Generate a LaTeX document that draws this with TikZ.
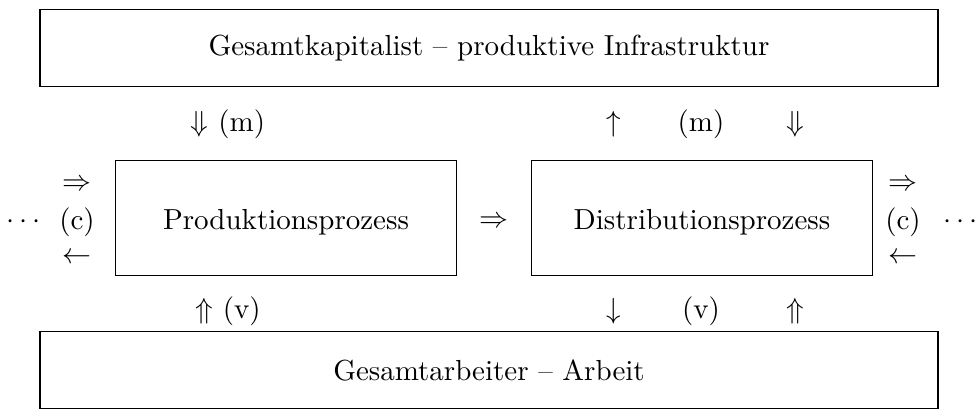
\documentclass[11pt,tikz,border=0pt]{standalone}
\usepackage{amsmath,amssymb}

\tikzset{
  bigbox/.style={draw,minimum width=11.92cm,minimum height=1.01cm,inner sep=0pt},
  procbox/.style={draw,minimum width=4.53cm,minimum height=1.526cm,inner sep=0pt},
  sym/.style={inner sep=0pt}
}

\begin{document}
\begin{tikzpicture}[x=0.01327cm,y=-0.01327cm]
          \useasboundingbox (0,0) rectangle (979,420);
          \node[bigbox] (kap) at (489,48) {Gesamtkapitalist -- produktive Infrastruktur};
          \node[bigbox] (arb) at (489,370) {Gesamtarbeiter -- Arbeit};
          \node[procbox] (prod) at (286,218) {};
          \node[procbox] (dist) at (702,218) {};
          \node[sym] (prodtxt) at (286,222) {Produktionsprozess};
          \node[sym] (disttxt) at (702,222) {Distributionsprozess};
          \node[sym] (mitte) at (494,222) {$\Rightarrow$};
          % Kreislauf links und rechts
          \foreach \nm/\x in {li/77,re/903} {
            \node[sym] (\nm hin) at (\x,185) {$\Rightarrow$};
            \node[sym] (\nm c) at (\x,222) {(c)};
            \node[sym] (\nm rueck) at (\x,258) {$\leftarrow$};
          }
          \node[sym] (lipkt) at (26,222) {$\cdots$};
          \node[sym] (repkt) at (963,222) {$\cdots$};
          % oben
          \node[sym] (om) at (228,124) {$\Downarrow$ (m)};
          \node[sym] (oauf) at (614,124) {$\uparrow$};
          \node[sym] (orm) at (701,124) {(m)};
          \node[sym] (oab) at (795,124) {$\Downarrow$};
          % unten
          \node[sym] (uv) at (228,311) {$\Uparrow$ (v)};
          \node[sym] (uab) at (614,311) {$\downarrow$};
          \node[sym] (urv) at (701,311) {(v)};
          \node[sym] (uauf) at (795,311) {$\Uparrow$};
        \end{tikzpicture}
\end{document}
